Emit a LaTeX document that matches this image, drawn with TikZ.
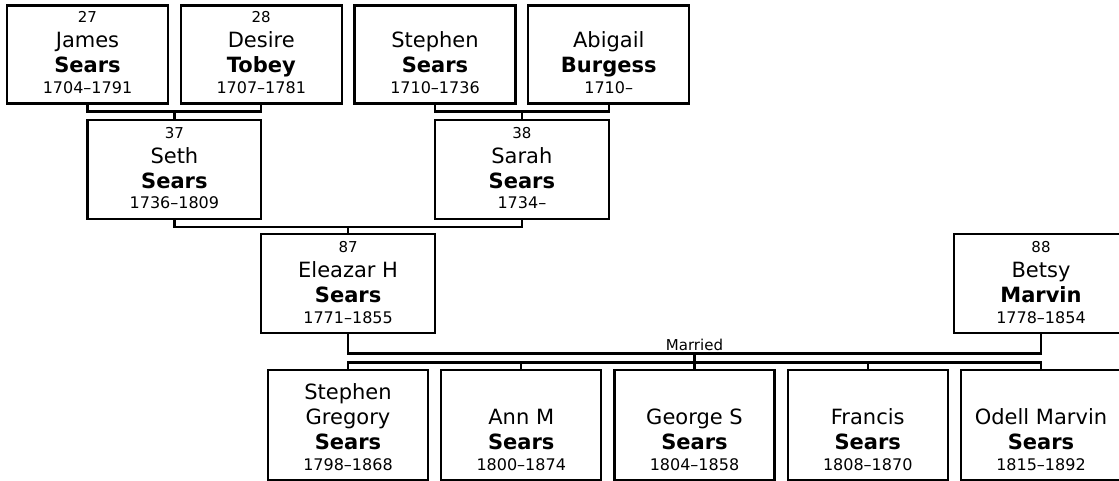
\documentclass[tikz,border=0pt]{standalone}
\usepackage{fontspec}
\setmainfont{DejaVu Sans}

% text lines of a person card (fixed baseline pitch)
\newcommand{\pnum}[1]{\fontsize{15}{15}\selectfont\smash{#1}\rule{0pt}{14pt}}
\newcommand{\pfirst}[1]{\fontsize{21}{21}\selectfont\smash{#1}\rule{0pt}{25pt}}
\newcommand{\plast}[1]{\fontsize{21}{21}\selectfont\bfseries\smash{#1}\rule{0pt}{25pt}}
\newcommand{\pyears}[1]{\fontsize{16}{16}\selectfont\smash{#1}\rule{0pt}{20.5pt}}

\begin{document}
\begin{tikzpicture}[
  x=1pt, y=-1pt,
  person/.style={draw, line width=2.4pt, rectangle, inner sep=0pt, outer sep=0pt,
                 minimum width=161pt, minimum height=98pt},
  parent/.style={person, minimum width=173.75pt, minimum height=99pt},
  child/.style={person, minimum width=160pt, minimum height=110pt},
  card/.style={anchor=south, inner sep=0pt, outer sep=0pt, align=center,
               yshift=10pt, font=\offinterlineskip},
  link/.style={line width=2.4pt},
  note/.style={font=\fontsize{15}{15}\selectfont, inner sep=0pt, anchor=base},
]
\useasboundingbox (0,0) rectangle (1119,481);
\clip (0,0) rectangle (1119,481);

% --- Great-grandparents ---
\node[person, label={[card]south:{\pnum{27}\\\pfirst{James}\\\plast{Sears}\\\pyears{1704–1791}}}]
  (james) at (87.5,54.5) {};
\node[person, label={[card]south:{\pnum{28}\\\pfirst{Desire}\\\plast{Tobey}\\\pyears{1707–1781}}}]
  (desire) at (261.25,54.5) {};
\node[person, label={[card]south:{\pfirst{Stephen}\\\plast{Sears}\\\pyears{1710–1736}}}]
  (stephen) at (435,54.5) {};
\node[person, label={[card]south:{\pfirst{Abigail}\\\plast{Burgess}\\\pyears{1710–}}}]
  (abigail) at (608.75,54.5) {};

% --- Grandparents ---
\node[parent, label={[card]south:{\pnum{37}\\\pfirst{Seth}\\\plast{Sears}\\\pyears{1736–1809}}}]
  (seth) at (174.4,169.5) {};
\node[parent, label={[card]south:{\pnum{38}\\\pfirst{Sarah}\\\plast{Sears}\\\pyears{1734–}}}]
  (sarah) at (521.9,169.5) {};

\coordinate (jd) at (174.4,111.5);
\coordinate (sa) at (521.9,111.5);
\draw[link] (james.south) |- (jd) -| (desire.south);
\draw[link] (jd) -- (seth.north);
\draw[link] (stephen.south) |- (sa) -| (abigail.south);
\draw[link] (sa) -- (sarah.north);

% --- Parents ---
\node[parent, label={[card]south:{\pnum{87}\\\pfirst{Eleazar H}\\\plast{Sears}\\\pyears{1771–1855}}}]
  (eleazar) at (348.1,283.5) {};
\node[parent, label={[card]south:{\pnum{88}\\\pfirst{Betsy}\\\plast{Marvin}\\\pyears{1778–1854}}}]
  (betsy) at (1041,283.5) {};

\coordinate (ss) at (348.1,227);
\draw[link] (seth.south) |- (ss) -| (sarah.south);
\draw[link] (ss) -- (eleazar.north);

% --- Marriage ---
\coordinate (wed) at (694.5,353.5);
\draw[link] (eleazar.south) |- (wed) -| (betsy.south);
\node[note] (married) at (694.5,350) {Married};

% --- Children ---
\node[child, label={[card]south:{\pfirst{Stephen}\\\pfirst{Gregory}\\\plast{Sears}\\\pyears{1798–1868}}}]
  (kid1) at (348,425) {};
\node[child, label={[card]south:{\pfirst{Ann M}\\\plast{Sears}\\\pyears{1800–1874}}}]
  (kid2) at (521.25,425) {};
\node[child, label={[card]south:{\pfirst{George S}\\\plast{Sears}\\\pyears{1804–1858}}}]
  (kid3) at (694.5,425) {};
\node[child, label={[card]south:{\pfirst{Francis}\\\plast{Sears}\\\pyears{1808–1870}}}]
  (kid4) at (867.75,425) {};
\node[child, label={[card]south:{\pfirst{Odell Marvin}\\\plast{Sears}\\\pyears{1815–1892}}}]
  (kid5) at (1041,425) {};

\coordinate (kids) at (694.5,362.5);
\draw[link] (wed) -- (kids);
\draw[link] (kid1.north) |- (kids) -| (kid5.north);
\foreach \k in {kid2,kid3,kid4} {
  \draw[link] (\k.north) -- (\k.north |- kids);
}

\end{tikzpicture}
\end{document}
